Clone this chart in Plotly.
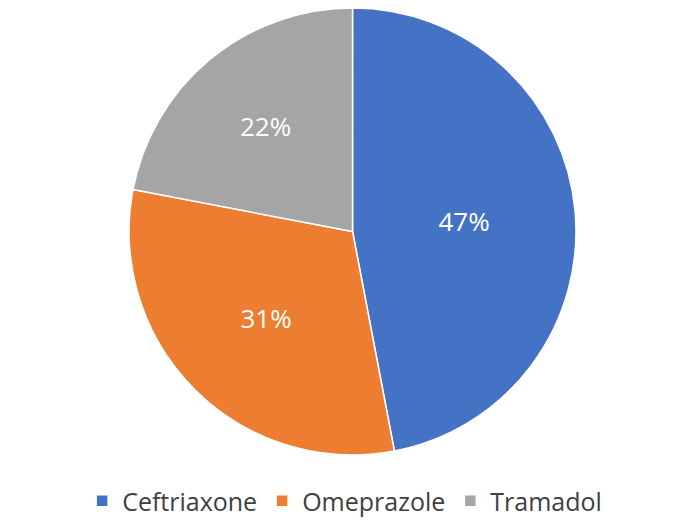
import plotly.graph_objects as go

labels = ["Ceftriaxone", "Omeprazole", "Tramadol"]
values = [47, 31, 22]
colors = ["#4472C4", "#ED7D31", "#A5A5A5"]

fig = go.Figure(go.Pie(
    labels=labels, values=values, sort=False, direction="clockwise", rotation=0,
    marker=dict(colors=colors, line=dict(color="white", width=1.5)),
    texttemplate="%{percent:.0%}", textposition="inside",
    textfont=dict(color="white", size=26, family="Open Sans"),
    domain=dict(x=[0.174, 0.829], y=[0.16, 1.0]),
    hoverinfo="label+percent", insidetextorientation="horizontal",
))
fig.update_layout(
    width=687, height=532, margin=dict(l=0, r=0, t=0, b=0),
    paper_bgcolor="white",
    legend=dict(orientation="h", x=0.49, xanchor="center", y=0.03, yanchor="bottom",
                font=dict(size=25, color="#404040", family="Open Sans"),
                itemwidth=30),
)
fig.write_html("out.html")
